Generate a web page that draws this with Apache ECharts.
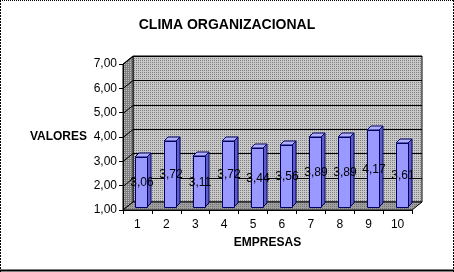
<!DOCTYPE html>
<html><head><meta charset="utf-8">
<script src="https://cdn.jsdelivr.net/npm/echarts@6/dist/echarts.min.js"></script>
<style>html,body{margin:0;padding:0;background:#fff}#c{width:454px;height:272px}</style>
</head><body><div id="c"></div>
<script>
const categories = ['1','2','3','4','5','6','7','8','9','10'];
const values = [3.06, 3.72, 3.11, 3.72, 3.44, 3.56, 3.89, 3.89, 4.17, 3.61];
const yTicks = [1, 2, 3, 4, 5, 6, 7];
const titleText = 'CLIMA ORGANIZACIONAL';
const yName = 'VALORES';
const xName = 'EMPRESAS';

const FONT = 'Arial, "Liberation Sans", sans-serif';
const DX = 10, DY = -8;      // wall depth
const SX = 4, SY = -3;       // bar front offset
const BX = 4, BY = -4;       // bar depth
const HW = 6;                // half bar width

function pattern(base, dot) {
  const c = document.createElement('canvas'); c.width = 2; c.height = 2;
  const g = c.getContext('2d');
  g.fillStyle = base; g.fillRect(0, 0, 2, 2);
  g.fillStyle = dot; g.fillRect(0, 0, 1, 1);
  return { image: c, repeat: 'repeat' };
}
const backPat = pattern('#c8c8c8', '#808080');
const sidePat = pattern('#808080', '#c0c0c0');
const floorPat = pattern('#a0a0a0', '#707070');
const fmt = v => v.toFixed(2).replace('.', ',');

function renderFrame(params, api) {
  const cs = params.coordSys;
  const x0 = cs.x, x1 = cs.x + cs.width, y0 = cs.y, y1 = cs.y + cs.height;
  const ch = [];
  ch.push({ type: 'rect', shape: { x: x0 + DX, y: y0 + DY, width: cs.width, height: cs.height },
    style: { fill: backPat, stroke: '#000', lineWidth: 1 } });
  ch.push({ type: 'polygon', shape: { points: [[x0, y0], [x0 + DX, y0 + DY], [x0 + DX, y1 + DY], [x0, y1]] },
    style: { fill: sidePat, stroke: '#000', lineWidth: 1 } });
  ch.push({ type: 'polygon', shape: { points: [[x0, y1], [x0 + DX, y1 + DY], [x1 + DX, y1 + DY], [x1, y1]] },
    style: { fill: floorPat, stroke: '#000', lineWidth: 1 } });
  yTicks.forEach(v => {
    if (v === yTicks[0]) return;
    const y = Math.round(api.coord([0, v])[1]) + 0.5;
    ch.push({ type: 'polyline', shape: { points: [[x0, y], [x0 + DX, y + DY], [x1 + DX, y + DY]] },
      style: { stroke: '#000', lineWidth: 1, fill: null } });
  });
  return { type: 'group', children: ch };
}

function renderBar(params, api) {
  const i = api.value(0), v = api.value(1);
  const top = api.coord([i, v]), base = api.coord([i, yTicks[0]]);
  const cx = Math.round(top[0] + SX), ty = Math.round(top[1] + SY), by = Math.round(base[1] + SY);
  return { type: 'group', children: [
    { type: 'polygon', shape: { points: [[cx + HW, ty], [cx + HW + BX, ty + BY], [cx + HW + BX, by + BY], [cx + HW, by]] },
      style: { fill: '#5c5cc8', stroke: '#000060', lineWidth: 1 } },
    { type: 'polygon', shape: { points: [[cx - HW, ty], [cx - HW + BX, ty + BY], [cx + HW + BX, ty + BY], [cx + HW, ty]] },
      style: { fill: '#b0b0ff', stroke: '#000060', lineWidth: 1 } },
    { type: 'rect', shape: { x: cx - HW + 0.5, y: ty + 0.5, width: 2 * HW, height: by - ty },
      style: { fill: '#9999ff', stroke: '#000060', lineWidth: 1 } },
    { type: 'text', x: cx + 1, y: (ty + by) / 2 + 1,
      style: { text: fmt(v), fill: '#000', font: '12px ' + FONT, align: 'center', verticalAlign: 'middle' } }
  ] };
}

const chart = echarts.init(document.getElementById('c'), null, { renderer: 'canvas' });
chart.setOption({
  animation: false,
  backgroundColor: '#fff',
  title: { text: titleText, left: 'center', top: 13,
    textStyle: { fontFamily: FONT, fontSize: 14, fontWeight: 'bold', color: '#000' } },
  grid: { left: 123, right: 42, top: 64, bottom: 62 },
  xAxis: {
    type: 'category', data: categories, z: 5,
    name: xName, nameLocation: 'middle', nameGap: 27,
    nameTextStyle: { fontFamily: FONT, fontSize: 12, fontWeight: 'bold', color: '#000' },
    axisLine: { lineStyle: { color: '#000', width: 1 } },
    axisTick: { show: true, length: 4, lineStyle: { color: '#000' } },
    axisLabel: { fontFamily: FONT, fontSize: 12, color: '#000', margin: 9 },
    splitLine: { show: false }
  },
  yAxis: {
    type: 'value', min: 1, max: 7, interval: 1, z: 5,
    name: yName, nameLocation: 'middle', nameRotate: 0, nameGap: 36,
    nameTextStyle: { fontFamily: FONT, fontSize: 12, fontWeight: 'bold', color: '#000' },
    axisLine: { show: true, lineStyle: { color: '#000', width: 1 } },
    axisTick: { show: true, length: 4, lineStyle: { color: '#000' } },
    axisLabel: { fontFamily: FONT, fontSize: 12, color: '#000', margin: 6, formatter: v => fmt(v) },
    splitLine: { show: false }
  },
  graphic: [
    { type: 'line', shape: { x1: 0.5, y1: 0, x2: 0.5, y2: 272 }, style: { stroke: '#000', lineWidth: 1, lineDash: [2, 1] } },
    { type: 'line', shape: { x1: 453.5, y1: 0, x2: 453.5, y2: 272 }, style: { stroke: '#000', lineWidth: 1, lineDash: [2, 1] } },
    { type: 'line', shape: { x1: 0, y1: 0.5, x2: 454, y2: 0.5 }, style: { stroke: '#000', lineWidth: 1, lineDash: [1, 1] } },
    { type: 'line', shape: { x1: 0, y1: 270.5, x2: 454, y2: 270.5 }, style: { stroke: '#000', lineWidth: 2 } }
  ],
  series: [
    { type: 'custom', name: 'frame', z: 1, silent: true, renderItem: renderFrame, data: [[0, yTicks[0]]] },
    { type: 'custom', name: 'valores', z: 2, renderItem: renderBar,
      encode: { x: 0, y: 1 }, data: values.map((v, i) => [i, v]) }
  ]
});
</script></body></html>
